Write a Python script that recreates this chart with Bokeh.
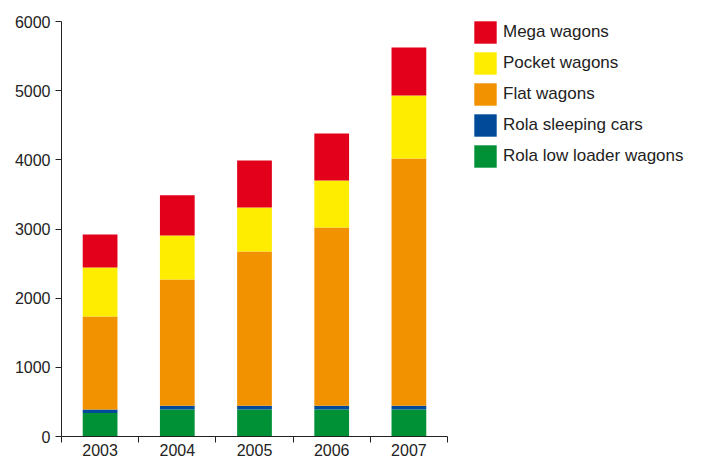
from bokeh.plotting import figure
from bokeh.models import ColumnDataSource, FixedTicker, Legend, LegendItem, Range1d
from bokeh.embed import file_html
from bokeh.resources import INLINE

years = ["2003", "2004", "2005", "2006", "2007"]
rola_low_loader = [340, 390, 390, 390, 390]
rola_sleeping = [50, 55, 55, 55, 55]
flat = [1345, 1825, 2230, 2577, 3574]
pocket = [708, 636, 636, 679, 911]
mega = [477, 583, 679, 679, 694]

series_names = ["Rola low loader wagons", "Rola sleeping cars", "Flat wagons",
                "Pocket wagons", "Mega wagons"]
series_keys = ["rola_low", "rola_sleep", "flat", "pocket", "mega"]
colors = ["#009036", "#004A99", "#F39200", "#FFED00", "#E2001A"]

xpos = [i + 0.5 for i in range(len(years))]
source = ColumnDataSource(dict(x=xpos, rola_low=rola_low_loader, rola_sleep=rola_sleeping,
                               flat=flat, pocket=pocket, mega=mega))

FONT = "Liberation Sans"

p = figure(frame_width=386, frame_height=415, output_backend="svg", toolbar_location=None,
           x_range=Range1d(0, 5), y_range=Range1d(0, 6000),
           min_border_left=61, min_border_right=256, min_border_top=21, min_border_bottom=0,
           outline_line_color=None, background_fill_color="white", border_fill_color="white")

renderers = p.vbar_stack(series_keys, x="x", width=0.45, color=colors, source=source,
                         line_color=None)

p.xgrid.visible = False
p.ygrid.visible = False

# x axis: labels at centers, ticks between categories
p.xaxis.ticker = FixedTicker(ticks=xpos, minor_ticks=[0, 1, 2, 3, 4, 5])
p.xaxis.major_label_overrides = {x: y for x, y in zip(xpos, years)}
p.xaxis.major_tick_out = 0
p.xaxis.major_tick_in = 0
p.xaxis.minor_tick_out = 6
p.xaxis.minor_tick_in = 0
p.xaxis.minor_tick_line_color = "#222222"
p.xaxis.axis_line_color = "#222222"
p.xaxis.major_label_standoff = 1
p.xaxis.major_label_text_font = FONT
p.xaxis.major_label_text_font_size = "16px"
p.xaxis.major_label_text_color = "#222222"

p.yaxis.ticker = FixedTicker(ticks=[0, 1000, 2000, 3000, 4000, 5000, 6000])
p.yaxis.major_tick_out = 6
p.yaxis.major_tick_in = 0
p.yaxis.minor_tick_line_color = None
p.yaxis.axis_line_color = "#222222"
p.yaxis.major_tick_line_color = "#222222"
p.yaxis.major_label_standoff = 5
p.yaxis.major_label_text_font = FONT
p.yaxis.major_label_text_font_size = "16px"
p.yaxis.major_label_text_color = "#222222"

items = [LegendItem(label=series_names[i], renderers=[renderers[i]]) for i in reversed(range(5))]
legend = Legend(items=items, location=(24, 266), orientation="vertical",
                glyph_width=28, glyph_height=28, label_standoff=4, spacing=3,
                padding=0, margin=0, border_line_color=None, background_fill_alpha=0,
                label_text_font=FONT, label_text_font_size="17px", label_text_color="#222222",
                label_height=28)
p.add_layout(legend, "right")

open("out.html", "w").write(file_html(p, INLINE))
